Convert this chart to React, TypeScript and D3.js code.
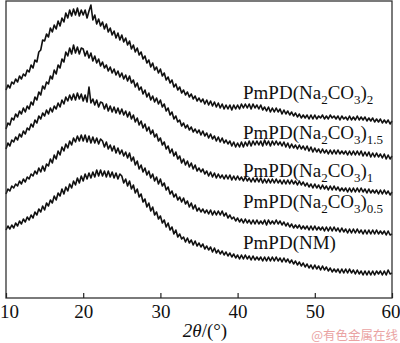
import { useEffect, useMemo, useRef } from "react";
import * as d3 from "d3";

const WIDTH = 400;
const HEIGHT = 343;
const PLOT = { left: 6, right: 392, top: 1, bottom: 298 };
const FONT = "'Liberation Serif', 'Times New Roman', serif";

// scan grid, 0.25 degree steps (10 .. 60)
const TWO_THETA = d3.range(10, 60.1, 0.25);
const X_TICKS = [10, 20, 30, 40, 50, 60];

// intensities (a.u., offset-stacked), top curve first.
// one row = 2.5 degrees
const NA2CO3_2 = [
  208, 213, 210, 216, 214, 219, 216, 222, 219, 224,
  222, 228, 226, 233, 230, 238, 236, 246, 248, 258,
  257, 264, 261, 270, 266, 273, 269, 277, 272, 280,
  276, 285, 280, 288, 282, 289, 283, 290, 282, 288,
  283, 288, 280, 287, 293, 278, 283, 274, 279, 272,
  276, 269, 274, 266, 270, 263, 267, 260, 265, 258,
  263, 256, 260, 253, 257, 249, 253, 246, 250, 243,
  246, 239, 242, 235, 238, 231, 235, 228, 231, 225,
  229, 222, 225, 218, 221, 215, 218, 211, 214, 208,
  211, 205, 208, 203, 206, 201, 204, 199, 202, 197,
  200, 196, 199, 194, 198, 193, 197, 192, 196, 191,
  195, 190, 194, 189, 193, 189, 193, 188, 193, 189,
  193, 189, 194, 190, 194, 190, 194, 189, 194, 190,
  193, 189, 193, 188, 191, 187, 191, 186, 190, 186,
  190, 186, 189, 184, 188, 184, 187, 183, 186, 182,
  185, 181, 184, 180, 183, 180, 183, 179, 183, 179,
  183, 179, 182, 180, 183, 179, 182, 179, 183, 180,
  182, 179, 182, 178, 182, 179, 181, 178, 182, 178,
  181, 178, 182, 178, 181, 178, 181, 177, 180, 177,
  180, 176, 179, 176, 179, 175, 178, 175, 178, 174,
  177,
];
const NA2CO3_15 = [
  169, 175, 173, 180, 178, 184, 181, 187, 184, 190,
  186, 192, 189, 196, 193, 201, 198, 206, 203, 212,
  209, 216, 214, 222, 219, 228, 224, 233, 230, 239,
  236, 246, 242, 250, 244, 253, 245, 251, 244, 250,
  249, 242, 247, 240, 245, 237, 242, 235, 239, 232,
  236, 230, 233, 227, 231, 225, 229, 223, 227, 221,
  225, 219, 223, 217, 222, 215, 218, 211, 215, 208,
  211, 204, 208, 201, 205, 198, 202, 196, 200, 194,
  198, 191, 194, 187, 190, 183, 186, 179, 182, 176,
  178, 172, 175, 170, 173, 168, 171, 166, 169, 165,
  168, 163, 167, 162, 165, 160, 164, 159, 162, 157,
  161, 156, 160, 155, 158, 154, 157, 152, 156, 151,
  155, 151, 156, 151, 156, 152, 157, 152, 157, 153,
  157, 153, 157, 152, 158, 153, 157, 152, 157, 153,
  157, 153, 156, 152, 156, 151, 155, 150, 154, 150,
  153, 149, 153, 149, 152, 148, 152, 147, 151, 146,
  150, 146, 149, 145, 149, 145, 148, 144, 148, 144,
  148, 144, 148, 144, 147, 144, 147, 143, 147, 143,
  147, 143, 147, 143, 147, 142, 146, 142, 146, 141,
  145, 141, 145, 141, 144, 140, 144, 139, 143, 139,
  142,
];
const NA2CO3_1 = [
  149, 155, 152, 158, 156, 161, 158, 164, 161, 167,
  164, 170, 168, 174, 171, 178, 175, 182, 179, 185,
  182, 188, 184, 190, 186, 192, 189, 195, 191, 198,
  194, 201, 197, 203, 198, 204, 198, 205, 199, 204,
  197, 203, 196, 211, 195, 199, 193, 198, 191, 196,
  195, 189, 194, 187, 192, 186, 191, 185, 190, 184,
  189, 183, 187, 181, 186, 179, 183, 176, 180, 173,
  177, 170, 174, 167, 171, 164, 168, 161, 164, 157,
  160, 153, 156, 149, 152, 145, 149, 142, 146, 139,
  142, 135, 139, 133, 137, 131, 135, 129, 133, 127,
  130, 126, 129, 124, 127, 122, 126, 121, 125, 120,
  124, 120, 123, 119, 123, 119, 123, 118, 122, 118,
  122, 118, 121, 117, 121, 117, 120, 116, 120, 116,
  120, 116, 120, 115, 119, 115, 119, 115, 119, 115,
  119, 115, 118, 114, 118, 114, 118, 114, 118, 114,
  117, 113, 117, 113, 116, 112, 115, 111, 114, 110,
  114, 110, 113, 109, 113, 109, 112, 108, 112, 108,
  112, 108, 111, 107, 110, 107, 110, 106, 110, 106,
  110, 106, 110, 106, 110, 106, 109, 105, 109, 105,
  108, 105, 108, 104, 108, 104, 108, 104, 107, 103,
  106,
];
const NA2CO3_05 = [
  104, 109, 107, 112, 110, 114, 112, 117, 114, 119,
  116, 121, 119, 124, 122, 127, 124, 130, 126, 132,
  127, 134, 132, 139, 135, 143, 139, 147, 143, 151,
  147, 154, 150, 157, 153, 160, 156, 162, 157, 163,
  157, 163, 156, 162, 155, 161, 155, 160, 154, 159,
  157, 151, 156, 149, 153, 147, 152, 145, 150, 144,
  148, 142, 146, 140, 145, 137, 141, 133, 137, 129,
  133, 126, 130, 123, 127, 120, 124, 117, 121, 114,
  119, 112, 115, 108, 111, 104, 107, 101, 104, 98,
  101, 96, 100, 94, 97, 91, 95, 89, 93, 87,
  90, 86, 89, 85, 88, 84, 88, 83, 87, 83,
  87, 83, 87, 82, 85, 80, 83, 79, 81, 77,
  80, 76, 79, 75, 79, 75, 78, 74, 78, 74,
  78, 74, 77, 74, 78, 73, 78, 74, 77, 74,
  78, 74, 77, 73, 76, 72, 75, 71, 74, 70,
  73, 70, 73, 69, 72, 69, 72, 68, 72, 68,
  72, 68, 71, 68, 71, 67, 71, 67, 71, 67,
  71, 67, 70, 66, 70, 66, 69, 65, 69, 65,
  69, 65, 69, 65, 68, 64, 68, 64, 68, 64,
  68, 64, 68, 64, 67, 64, 67, 63, 67, 63,
  64,
];
const NM = [
  68, 72, 69, 73, 70, 75, 72, 77, 74, 79,
  76, 81, 78, 83, 80, 86, 83, 89, 86, 92,
  88, 95, 92, 98, 95, 102, 98, 105, 102, 109,
  104, 111, 107, 114, 110, 117, 113, 120, 115, 122,
  117, 124, 119, 125, 120, 126, 121, 128, 122, 128,
  122, 127, 121, 127, 121, 126, 120, 125, 119, 124,
  122, 115, 119, 112, 117, 109, 113, 105, 109, 101,
  104, 96, 99, 91, 95, 87, 91, 83, 86, 79,
  82, 75, 78, 71, 75, 68, 71, 64, 68, 61,
  64, 59, 61, 56, 60, 55, 58, 53, 57, 52,
  55, 51, 54, 49, 52, 48, 51, 46, 50, 45,
  48, 44, 47, 43, 46, 42, 45, 41, 44, 40,
  43, 39, 43, 39, 43, 39, 42, 38, 42, 38,
  41, 38, 41, 37, 41, 37, 41, 37, 41, 37,
  41, 37, 40, 36, 40, 36, 39, 35, 38, 34,
  37, 33, 36, 32, 35, 31, 34, 30, 33, 29,
  33, 29, 32, 28, 32, 28, 31, 27, 30, 26,
  29, 26, 29, 25, 29, 25, 29, 25, 29, 25,
  28, 24, 28, 24, 27, 23, 27, 23, 27, 23,
  27, 23, 27, 24, 27, 23, 27, 23, 28, 24,
  25,
];

const SERIES = [NA2CO3_2, NA2CO3_15, NA2CO3_1, NA2CO3_05, NM];
// "_{..}" marks a subscript
const SERIES_NAMES = [
  "PmPD(Na_{2}CO_{3})_{2}",
  "PmPD(Na_{2}CO_{3})_{1.5}",
  "PmPD(Na_{2}CO_{3})_{1}",
  "PmPD(Na_{2}CO_{3})_{0.5}",
  "PmPD(NM)",
];
const LABEL_X = 243;
const LABEL_BASELINES = [99, 139, 177, 208, 249];

const Label = ({ x, y, text }: { x: number; y: number; text: string }) => {
  const parts = text.split(/(_\{[^}]*\})/).filter((p) => p.length > 0);
  let shifted = false;
  return (
    <text x={x} y={y} fontFamily={FONT} fontSize={19} fill="#111">
      {parts.map((p, i) => {
        if (p.startsWith("_{")) {
          const dy = shifted ? 0 : 5;
          shifted = true;
          return (
            <tspan key={i} dy={dy} fontSize={13}>
              {p.slice(2, -1)}
            </tspan>
          );
        }
        const dy = shifted ? -5 : 0;
        shifted = false;
        return (
          <tspan key={i} dy={dy}>
            {p}
          </tspan>
        );
      })}
    </text>
  );
};

export default function App() {
  const axisRef = useRef<SVGGElement>(null);

  const xScale = useMemo(
    () => d3.scaleLinear().domain([10, 60]).range([PLOT.left, PLOT.right]),
    []
  );
  const yScale = useMemo(
    () => d3.scaleLinear().domain([0, 297]).range([PLOT.bottom, PLOT.top]),
    []
  );

  const lineGen = d3
    .line<number>()
    .x((_, i) => xScale(TWO_THETA[i]))
    .y((d) => yScale(d));

  useEffect(() => {
    const g = d3.select(axisRef.current);
    g.selectAll("*").remove();
    g.attr("transform", `translate(0,${PLOT.bottom})`).call(
      d3
        .axisBottom(xScale)
        .tickValues(X_TICKS)
        .tickSizeInner(-5)
        .tickSizeOuter(0)
        .tickPadding(7)
    );
    g.attr("font-size", 19).attr("font-family", FONT);
    g.select(".domain").remove();
    g.selectAll(".tick line").attr("stroke", "#222").attr("stroke-width", 1.2);
    g.selectAll(".tick text").attr("fill", "#111");
    // keep the end labels inside the picture
    g.selectAll<SVGTextElement, number>(".tick text").attr("dx", (d) =>
      d === 10 ? 3 : d === 60 ? -1.5 : 0
    );
  }, [xScale]);

  return (
    <svg
      width={WIDTH}
      height={HEIGHT}
      style={{ position: "absolute", left: 0, top: 0, background: "#fff" }}
    >
      <rect width={WIDTH} height={HEIGHT} fill="#fff" />
      {SERIES.map((s, i) => (
        <path
          key={i}
          d={lineGen(s) || ""}
          fill="none"
          stroke="#111"
          strokeWidth={1.6}
          strokeLinejoin="round"
        />
      ))}
      <rect
        x={PLOT.left}
        y={PLOT.top}
        width={PLOT.right - PLOT.left}
        height={PLOT.bottom - PLOT.top}
        fill="none"
        stroke="#333"
        strokeWidth={1.3}
      />
      <g ref={axisRef} />
      {SERIES_NAMES.map((n, i) => (
        <Label key={n} x={LABEL_X} y={LABEL_BASELINES[i]} text={n} />
      ))}
      <text
        x={205}
        y={337}
        textAnchor="middle"
        fontFamily={FONT}
        fontSize={19}
        fill="#111"
      >
        <tspan fontStyle="italic">2θ</tspan>/(°)
      </text>
      <text
        x={398}
        y={340}
        textAnchor="end"
        fontFamily="'Noto Sans CJK SC', sans-serif"
        fontSize={12.5}
        fill="#eaa3a3"
      >
        @有色金属在线
      </text>
    </svg>
  );
}
